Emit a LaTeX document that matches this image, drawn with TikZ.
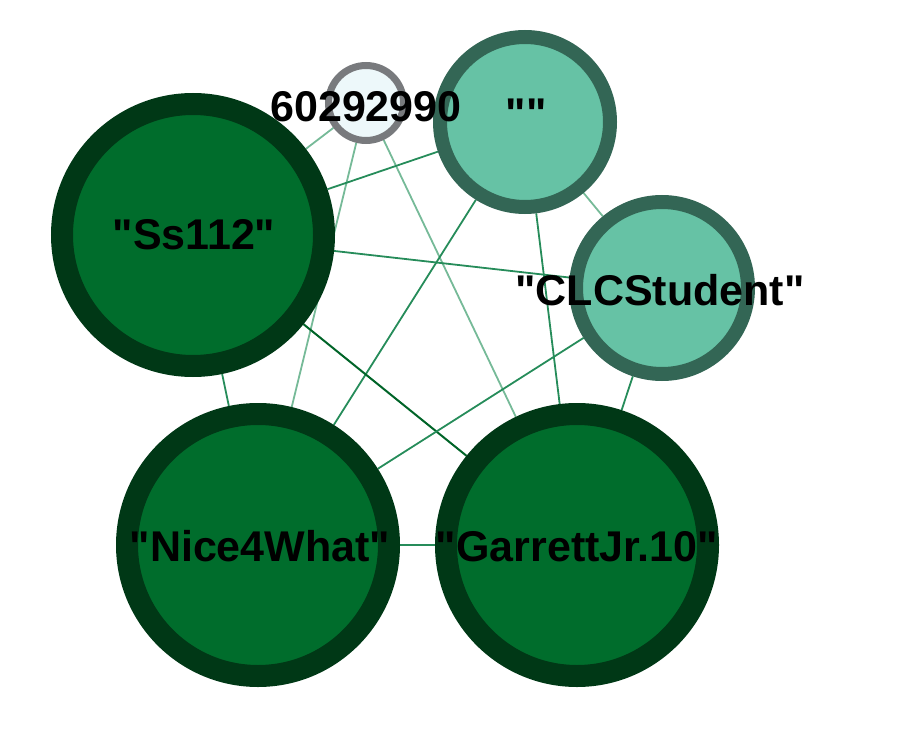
\documentclass[tikz,border=0pt]{standalone}
\usepackage{fontspec}
\setmainfont{Liberation Sans}[Ligatures=TeXOff]
\usetikzlibrary{backgrounds}
\definecolor{darkfill}{RGB}{0,109,44}
\definecolor{darkring}{RGB}{0,56,22}
\definecolor{tealfill}{RGB}{102,194,165}
\definecolor{tealring}{RGB}{51,102,85}
\definecolor{palefill}{RGB}{237,248,250}
\definecolor{palering}{RGB}{120,122,125}
\definecolor{edgemid}{RGB}{38,140,90}
\definecolor{edgelight}{RGB}{118,186,152}
\definecolor{edgedark}{RGB}{0,100,40}
\tikzset{
  bignode/.style={circle, inner sep=0pt, fill=darkfill, draw=darkring, line width=22pt, minimum size=2*(142pt-11pt)},
  tealnode/.style={circle, inner sep=0pt, fill=tealfill, draw=tealring, line width=14pt, minimum size=2*(92pt-7pt)},
  palenode/.style={circle, inner sep=0pt, fill=palefill, draw=palering, line width=7pt, minimum size=2*(41pt-3.5pt)},
  lbl/.style={inner sep=0pt, text height=31pt, text depth=0pt, font=\fontsize{43}{43}\selectfont\bfseries, text=black},
  emid/.style={draw=edgemid, line width=1.8pt},
  elight/.style={draw=edgelight, line width=1.8pt},
  edark/.style={draw=edgedark, line width=2pt},
}
\begin{document}
\begin{tikzpicture}[x=1pt,y=-1pt]
\useasboundingbox (0,0) rectangle (902,738);
% nodes
\node[palenode] (A) at (366,103) {};
\node[tealnode] (B) at (525,122) {};
\node[bignode] (S) at (193,235) {};
\node[tealnode, minimum size=2*(93pt-7pt)] (C) at (662,288) {};
\node[bignode] (N) at (258,545) {};
\node[bignode] (G) at (577,545) {};
% edges
\begin{scope}[on background layer]
\draw[elight] (A) -- (S);
\draw[elight] (A) -- (N);
\draw[elight] (A) -- (G);
\draw[emid] (B) -- (S);
\draw[emid] (B) -- (N);
\draw[emid] (B) -- (G);
\draw[elight] (B) -- (C);
\draw[emid] (S) -- (C);
\draw[emid] (S) -- (N);
\draw[edark] (S) -- (G);
\draw[emid] (C) -- (N);
\draw[emid] (C) -- (G);
\draw[emid] (N) -- (G);
\end{scope}
% labels
\node[lbl] (lA) at (366,106) {60292990};
\node[lbl] (lB) at (526,113.5) {""};
\node[lbl] (lS) at (194,234) {"Ss112"};
\node[lbl] (lC) at (660,290) {"CLCStudent"};
\node[lbl] (lN) at (260,546) {"Nice4What"};
\node[lbl] (lG) at (577,546) {"GarrettJr.10"};
\end{tikzpicture}
\end{document}
